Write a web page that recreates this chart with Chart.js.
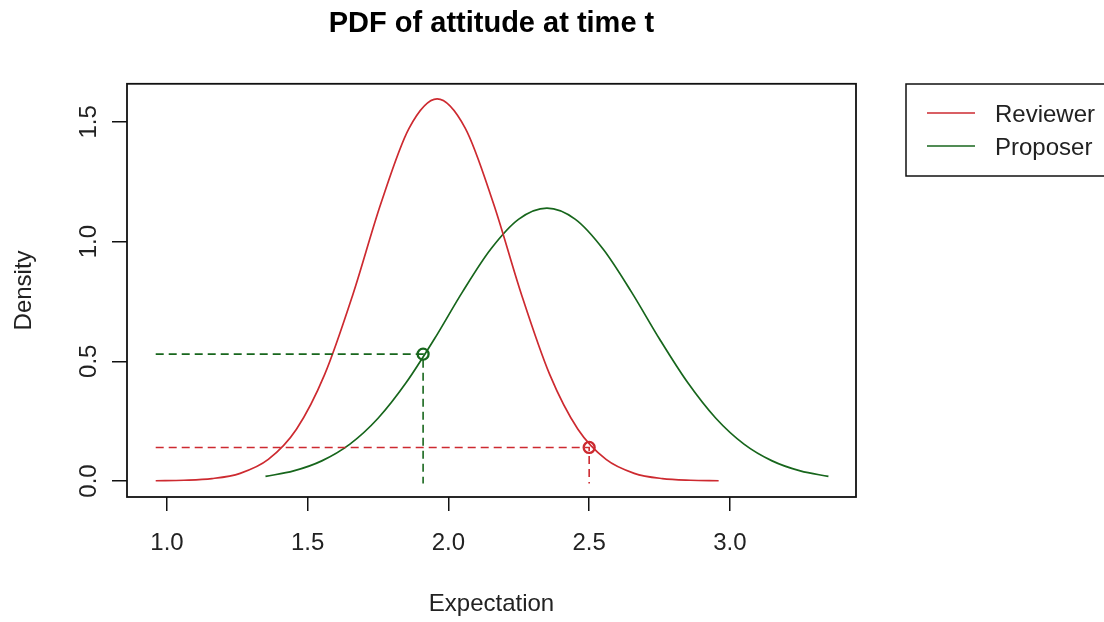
<!DOCTYPE html>
<html>
<head>
<meta charset="utf-8">
<script src="https://cdn.jsdelivr.net/npm/chart.js@4/dist/chart.umd.min.js"></script>
<style>
  html, body { margin: 0; padding: 0; background: #fff; }
  #wrap { width: 1104px; height: 622px; }
</style>
</head>
<body>
<div id="wrap"><canvas id="pdf-chart" width="1104" height="622"></canvas></div>
<script>
// values
const reviewerX = [0.96, 1.06, 1.16, 1.26, 1.36, 1.46, 1.56, 1.66, 1.76, 1.86, 1.96,
                   2.06, 2.16, 2.26, 2.36, 2.46, 2.56, 2.66, 2.76, 2.86, 2.96];
const reviewerY = [0.001, 0.003, 0.010, 0.032, 0.090, 0.216, 0.444, 0.777, 1.159, 1.473, 1.596,
                   1.473, 1.159, 0.777, 0.444, 0.216, 0.090, 0.032, 0.010, 0.003, 0.001];
const proposerX = [1.35, 1.45, 1.55, 1.65, 1.75, 1.85, 1.95, 2.05, 2.15, 2.25, 2.35,
                   2.45, 2.55, 2.65, 2.75, 2.85, 2.95, 3.05, 3.15, 3.25, 3.35];
const proposerY = [0.019, 0.042, 0.084, 0.154, 0.262, 0.411, 0.593, 0.790, 0.968, 1.094, 1.140,
                   1.094, 0.968, 0.790, 0.593, 0.411, 0.262, 0.154, 0.084, 0.042, 0.019];

const seriesNames = ['Reviewer', 'Proposer'];
const markerX = [2.5, 1.91];
const markerY = [0.14, 0.53];
const guideStartX = 0.96;
const guideEndY = -0.01;

const xTicks = [1.0, 1.5, 2.0, 2.5, 3.0];
const xTickLabels = ['1.0', '1.5', '2.0', '2.5', '3.0'];
const yTicks = [0.0, 0.5, 1.0, 1.5];
const yTickLabels = ['0.0', '0.5', '1.0', '1.5'];

const RED = '#cd2a30';
const GREEN = '#17661c';
const FONT = '"Liberation Sans", Arial, Helvetica, sans-serif';

const toPoints = (xs, ys) => xs.map((x, i) => ({ x: x, y: ys[i] }));

function guide(i) {
    return [
        { x: guideStartX, y: markerY[i] },
        { x: markerX[i], y: markerY[i] },
        { x: markerX[i], y: guideEndY }
    ];
}

const boxPlugin = {
    id: 'rbox',
    afterDatasetsDraw(chart) {
        const { ctx, chartArea: a } = chart;
        ctx.save();
        ctx.strokeStyle = '#111';
        ctx.lineWidth = 1.8;
        ctx.strokeRect(a.left, a.top, a.right - a.left, a.bottom - a.top);

        // y tick labels, turned like R does
        const ys = chart.scales.y;
        ctx.fillStyle = '#222';
        ctx.font = '24px ' + FONT;
        ctx.textAlign = 'center';
        ctx.textBaseline = 'alphabetic';
        yTicks.forEach((v, i) => {
            ctx.save();
            ctx.translate(96, ys.getPixelForValue(v));
            ctx.rotate(-Math.PI / 2);
            ctx.fillText(yTickLabels[i], 0, 0);
            ctx.restore();
        });

        // legend box
        ctx.lineWidth = 1.5;
        ctx.strokeRect(906, 84, 260, 92);
        const colors = [RED, GREEN];
        ctx.textAlign = 'left';
        seriesNames.forEach((name, i) => {
            const y = 113 + i * 33;
            ctx.strokeStyle = colors[i];
            ctx.lineWidth = 1.5;
            ctx.beginPath();
            ctx.moveTo(927, y);
            ctx.lineTo(975, y);
            ctx.stroke();
            ctx.fillStyle = '#222';
            ctx.fillText(name, 995, y + 8.6);
        });
        ctx.restore();
    }
};

const ctx = document.getElementById('pdf-chart').getContext('2d');
new Chart(ctx, {
    type: 'scatter',
    data: {
        datasets: [
            {
                label: 'reviewer guide',
                data: guide(0),
                showLine: true,
                borderColor: RED,
                borderWidth: 1.6,
                borderDash: [8, 5],
                pointRadius: 0
            },
            {
                label: 'proposer guide',
                data: guide(1),
                showLine: true,
                borderColor: GREEN,
                borderWidth: 1.6,
                borderDash: [8, 5],
                pointRadius: 0
            },
            {
                label: 'markers',
                data: toPoints(markerX, markerY),
                showLine: false,
                pointRadius: 5.5,
                pointBorderWidth: 2.3,
                pointBackgroundColor: 'rgba(0,0,0,0)',
                pointBorderColor: [RED, GREEN]
            },
            {
                label: seriesNames[0],
                data: toPoints(reviewerX, reviewerY),
                showLine: true,
                borderColor: RED,
                borderWidth: 1.7,
                cubicInterpolationMode: 'monotone',
                pointRadius: 0
            },
            {
                label: seriesNames[1],
                data: toPoints(proposerX, proposerY),
                showLine: true,
                borderColor: GREEN,
                borderWidth: 1.7,
                cubicInterpolationMode: 'monotone',
                pointRadius: 0
            }
        ]
    },
    options: {
        responsive: false,
        animation: false,
        layout: { padding: { left: 0, right: 248, top: 0, bottom: 0 } },
        scales: {
            x: {
                type: 'linear',
                min: 0.858,
                max: 3.448,
                afterBuildTicks: (s) => { s.ticks = xTicks.map(v => ({ value: v })); },
                afterFit: (s) => { s.height = 125; },
                ticks: {
                    font: { family: FONT, size: 24 },
                    color: '#222',
                    padding: 18,
                    maxRotation: 0,
                    callback: (v, i) => xTickLabels[i]
                },
                grid: {
                    drawOnChartArea: false,
                    drawTicks: true,
                    tickLength: 14,
                    color: '#111',
                    lineWidth: 1.5
                },
                border: { display: false },
                title: {
                    display: true,
                    text: 'Expectation',
                    color: '#222',
                    font: { family: FONT, size: 24 },
                    padding: { top: 0, bottom: 3 }
                }
            },
            y: {
                type: 'linear',
                min: -0.0669,
                max: 1.659,
                afterBuildTicks: (s) => { s.ticks = yTicks.map(v => ({ value: v })); },
                afterFit: (s) => { s.width = 127; },
                ticks: { display: false },
                grid: {
                    drawOnChartArea: false,
                    drawTicks: true,
                    tickLength: 15,
                    color: '#111',
                    lineWidth: 1.5
                },
                border: { display: false },
                title: {
                    display: true,
                    text: 'Density',
                    color: '#222',
                    font: { family: FONT, size: 24 },
                    padding: { top: 10, bottom: 0 }
                }
            }
        },
        plugins: {
            legend: { display: false },
            tooltip: { enabled: false },
            title: {
                display: true,
                fullSize: false,
                text: 'PDF of attitude at time t',
                color: '#000',
                font: { family: FONT, size: 29, weight: 'bold' },
                padding: { top: 7, bottom: 42 }
            }
        }
    },
    plugins: [boxPlugin]
});
</script>
</body>
</html>
